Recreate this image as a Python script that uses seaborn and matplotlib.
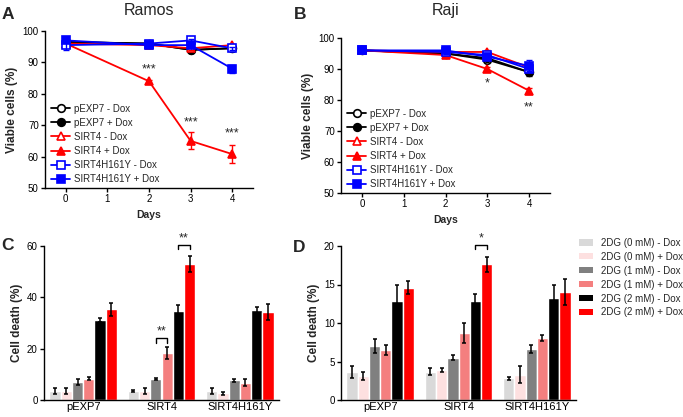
"""
Viability and cell death panels (Ramos / Raji) redrawn with seaborn
"""

import pandas as pd
import numpy as np
import matplotlib.pyplot as plt
import seaborn as sns
from matplotlib.patches import Patch

sns.set_style("ticks")
plt.rcParams['font.family'] = ['Liberation Sans', 'DejaVu Sans']
plt.rcParams['axes.linewidth'] = 1.0
plt.rcParams['xtick.major.width'] = 1.0
plt.rcParams['ytick.major.width'] = 1.0
plt.rcParams['xtick.major.size'] = 3
plt.rcParams['ytick.major.size'] = 3
plt.rcParams['xtick.color'] = 'black'
plt.rcParams['ytick.color'] = 'black'
plt.rcParams['axes.edgecolor'] = 'black'

# ---- data: viability time course ----
days = [0, 2, 3, 4]
series_names = ['pEXP7 - Dox', 'pEXP7 + Dox', 'SIRT4 - Dox', 'SIRT4 + Dox',
                'SIRT4H161Y - Dox', 'SIRT4H161Y + Dox']

ramos_pexp7_minus = [96.5, 96.0, 94.0, 94.5]
ramos_pexp7_plus = [96.5, 96.0, 94.0, 94.5]
ramos_sirt4_minus = [96.0, 95.5, 94.5, 95.5]
ramos_sirt4_plus = [96.0, 84.0, 65.0, 60.8]
ramos_mut_minus = [95.5, 96.0, 97.0, 94.5]
ramos_mut_plus = [97.0, 95.5, 95.5, 88.0]

ramos_pexp7_minus_sd = [0.5, 0.5, 0.5, 0.5]
ramos_pexp7_plus_sd = [0.5, 0.5, 0.5, 0.5]
ramos_sirt4_minus_sd = [0.5, 0.5, 0.5, 0.5]
ramos_sirt4_plus_sd = [0.3, 0.5, 2.7, 2.9]
ramos_mut_minus_sd = [1.5, 0.7, 0.5, 0.5]
ramos_mut_plus_sd = [0.5, 0.5, 0.5, 1.3]

raji_pexp7_minus = [96.0, 95.0, 93.0, 89.0]
raji_pexp7_plus = [96.0, 95.0, 93.5, 89.0]
raji_sirt4_minus = [96.0, 95.5, 95.5, 90.5]
raji_sirt4_plus = [96.0, 94.5, 90.0, 83.0]
raji_mut_minus = [96.0, 95.5, 94.5, 90.0]
raji_mut_plus = [96.0, 96.0, 94.0, 91.0]

raji_pexp7_minus_sd = [0.5, 0.5, 0.5, 0.8]
raji_pexp7_plus_sd = [0.5, 0.5, 0.5, 1.2]
raji_sirt4_minus_sd = [0.5, 0.5, 0.6, 0.8]
raji_sirt4_plus_sd = [0.5, 0.5, 0.8, 1.0]
raji_mut_minus_sd = [0.5, 0.6, 0.6, 0.8]
raji_mut_plus_sd = [0.5, 0.8, 0.6, 2.0]

ramos_star_days = [2, 3, 4]
ramos_star_y = [87.6, 70.8, 67.3]
ramos_star_text = ['***', '***', '***']
raji_star_days = [3, 4]
raji_star_y = [85.5, 77.6]
raji_star_text = ['*', '**']

# ---- data: cell death bars ----
groups = ['pEXP7', 'SIRT4', 'SIRT4H161Y']
conditions = ['2DG (0 mM) - Dox', '2DG (0 mM) + Dox', '2DG (1 mM) - Dox',
              '2DG (1 mM) + Dox', '2DG (2 mM) - Dox', '2DG (2 mM) + Dox']

ramos_death_pexp7 = [3.5, 3.5, 7.0, 8.3, 31.2, 35.3]
ramos_death_sirt4 = [3.5, 3.5, 8.2, 18.2, 34.6, 53.0]
ramos_death_mut = [3.5, 2.6, 7.7, 6.8, 35.2, 34.3]
ramos_death_pexp7_sd = [1.0, 1.0, 1.3, 0.6, 0.7, 2.4]
ramos_death_sirt4_sd = [0.3, 1.0, 0.4, 2.3, 2.5, 3.0]
ramos_death_mut_sd = [1.0, 0.6, 0.6, 1.2, 1.2, 3.0]

raji_death_pexp7 = [3.6, 3.1, 7.0, 6.5, 12.9, 14.6]
raji_death_sirt4 = [3.7, 3.9, 5.5, 8.7, 12.9, 17.6]
raji_death_mut = [2.8, 3.3, 6.6, 8.0, 13.2, 14.0]
raji_death_pexp7_sd = [0.8, 0.5, 0.9, 0.7, 2.1, 0.8]
raji_death_sirt4_sd = [0.4, 0.3, 0.3, 1.3, 0.9, 1.0]
raji_death_mut_sd = [0.2, 1.1, 0.5, 0.4, 1.7, 1.7]

# brackets: (group index, condition a, condition b, height, label)
ramos_brackets = [(1, 2, 3, 24.0, '**'), (1, 4, 5, 60.3, '**')]
raji_brackets = [(1, 4, 5, 20.1, '*')]

line_colors = ['black', 'black', '#ff0000', '#ff0000', '#0000ff', '#0000ff']
line_markers = ['o', 'o', '^', '^', 's', 's']
line_filled = [False, True, False, True, False, True]
bar_colors = ['#d9d9d9', '#fde0e0', '#808080', '#f47f7f', '#000000', '#ff0000']

W, H = 683, 417


def px_axes(fig, x0, y0, x1, y1):
    return fig.add_axes([x0 / W, 1 - y1 / H, (x1 - x0) / W, (y1 - y0) / H])


def style_axes(ax):
    sns.despine(ax=ax)
    ax.grid(False)
    ax.tick_params(labelsize=7, pad=1.5)


def draw_lines(ax, values, sds, star_days, star_y, star_text):
    for name, vals, sd, col, mk, filled in zip(series_names, values, sds, line_colors,
                                              line_markers, line_filled):
        sns.lineplot(x=days, y=vals, ax=ax, color=col, lw=1.3, marker=mk,
                     markersize=5.5, markeredgecolor=col, markeredgewidth=1.2,
                     markerfacecolor=col if filled else 'white', label=name)
        ax.errorbar(days, vals, yerr=sd, fmt='none', ecolor=col, elinewidth=1,
                    capsize=2, capthick=1)
    for d, y, t in zip(star_days, star_y, star_text):
        ax.text(d, y, t, ha='center', va='center', fontsize=9)
    ax.set_xlim(-0.5, 4.5)
    ax.set_ylim(50, 100)
    ax.set_xticks([0, 1, 2, 3, 4])
    ax.set_yticks([50, 60, 70, 80, 90, 100])
    ax.set_xlabel('Days', fontsize=7.5, fontweight='bold', labelpad=4)
    ax.set_ylabel('Viable cells (%)', fontsize=8.5, fontweight='bold', labelpad=3)
    style_axes(ax)
    ax.legend(loc='lower left', bbox_to_anchor=(0.01, 0.0), frameon=False,
              fontsize=7, handlelength=2.0, handletextpad=0.4, labelspacing=0.42,
              borderaxespad=0.2, borderpad=0.2)


def draw_bars(ax, rows, sds, brackets, ymax, yticks):
    df = pd.DataFrame({
        'group': np.repeat(groups, len(conditions)),
        'cond': conditions * len(groups),
        'value': np.concatenate(rows),
    })
    sd = np.array(sds)
    sns.barplot(data=df, x='group', y='value', hue='cond', order=groups,
                hue_order=conditions, palette=bar_colors, saturation=1,
                width=0.86, errorbar=None, ax=ax, legend=False)
    centers = np.zeros((len(groups), len(conditions)))
    bar_sets = list(ax.containers)
    for ci, cont in enumerate(bar_sets):
        for gi, bar in enumerate(cont):
            cx = bar.get_x() + bar.get_width() / 2
            centers[gi, ci] = cx
            ax.errorbar(cx, bar.get_height(), yerr=sd[gi, ci], fmt='none',
                        ecolor='black', elinewidth=1.1, capsize=1.6, capthick=1.1)
    for gi, a, b, h, label in brackets:
        xa, xb = centers[gi, a], centers[gi, b]
        leg = ymax * 0.027
        ax.plot([xa, xa, xb, xb], [h - leg, h, h, h - leg], color='black', lw=1,
                clip_on=False)
        ax.annotate(label, ((xa + xb) / 2, h), xytext=(0, 0.5),
                    textcoords='offset points', ha='center', va='bottom',
                    fontsize=9, annotation_clip=False)
    ax.set_xlim(-0.5, 2.5)
    ax.set_ylim(0, ymax)
    ax.set_yticks(yticks)
    ax.set_xlabel('')
    ax.set_ylabel('Cell death (%)', fontsize=8.5, fontweight='bold', labelpad=3)
    style_axes(ax)
    ax.tick_params(axis='x', labelsize=8, length=0, pad=1.5)


fig = plt.figure(figsize=(W / 100, H / 100), dpi=100)

ax_a = px_axes(fig, 45, 31, 253, 188)
draw_lines(ax_a,
           [ramos_pexp7_minus, ramos_pexp7_plus, ramos_sirt4_minus, ramos_sirt4_plus,
            ramos_mut_minus, ramos_mut_plus],
           [ramos_pexp7_minus_sd, ramos_pexp7_plus_sd, ramos_sirt4_minus_sd,
            ramos_sirt4_plus_sd, ramos_mut_minus_sd, ramos_mut_plus_sd],
           ramos_star_days, ramos_star_y, ramos_star_text)

ax_b = px_axes(fig, 341, 38, 550, 193)
draw_lines(ax_b,
           [raji_pexp7_minus, raji_pexp7_plus, raji_sirt4_minus, raji_sirt4_plus,
            raji_mut_minus, raji_mut_plus],
           [raji_pexp7_minus_sd, raji_pexp7_plus_sd, raji_sirt4_minus_sd,
            raji_sirt4_plus_sd, raji_mut_minus_sd, raji_mut_plus_sd],
           raji_star_days, raji_star_y, raji_star_text)

ax_c = px_axes(fig, 44, 246, 279, 400)
draw_bars(ax_c, [ramos_death_pexp7, ramos_death_sirt4, ramos_death_mut],
          [ramos_death_pexp7_sd, ramos_death_sirt4_sd, ramos_death_mut_sd],
          ramos_brackets, 60, [0, 20, 40, 60])

ax_d = px_axes(fig, 341, 246, 576, 400)
draw_bars(ax_d, [raji_death_pexp7, raji_death_sirt4, raji_death_mut],
          [raji_death_pexp7_sd, raji_death_sirt4_sd, raji_death_mut_sd],
          raji_brackets, 20, [0, 5, 10, 15, 20])

# legend for the bar panels
handles = [Patch(facecolor=c, edgecolor='none') for c in bar_colors]
fig.legend(handles, conditions, loc='upper left', bbox_to_anchor=(577 / W, 1 - 236 / H),
           frameon=False, fontsize=7, handlelength=1.4, handleheight=0.6,
           handletextpad=0.9, labelspacing=0.4, borderpad=0.2, borderaxespad=0)

# titles and panel letters
fig.text(149 / W, 1 - 15 / H, 'Ramos', ha='center', va='baseline', fontsize=11.5)
fig.text(446 / W, 1 - 15 / H, 'Raji', ha='center', va='baseline', fontsize=11.5)
for letter, x, y in [('A', 2, 7), ('B', 294, 7), ('C', 1, 238), ('D', 293, 240)]:
    fig.text(x / W, 1 - y / H, letter, ha='left', va='top', fontsize=12.5,
             fontweight='bold')

plt.savefig('out.png', dpi=100)
plt.close()
